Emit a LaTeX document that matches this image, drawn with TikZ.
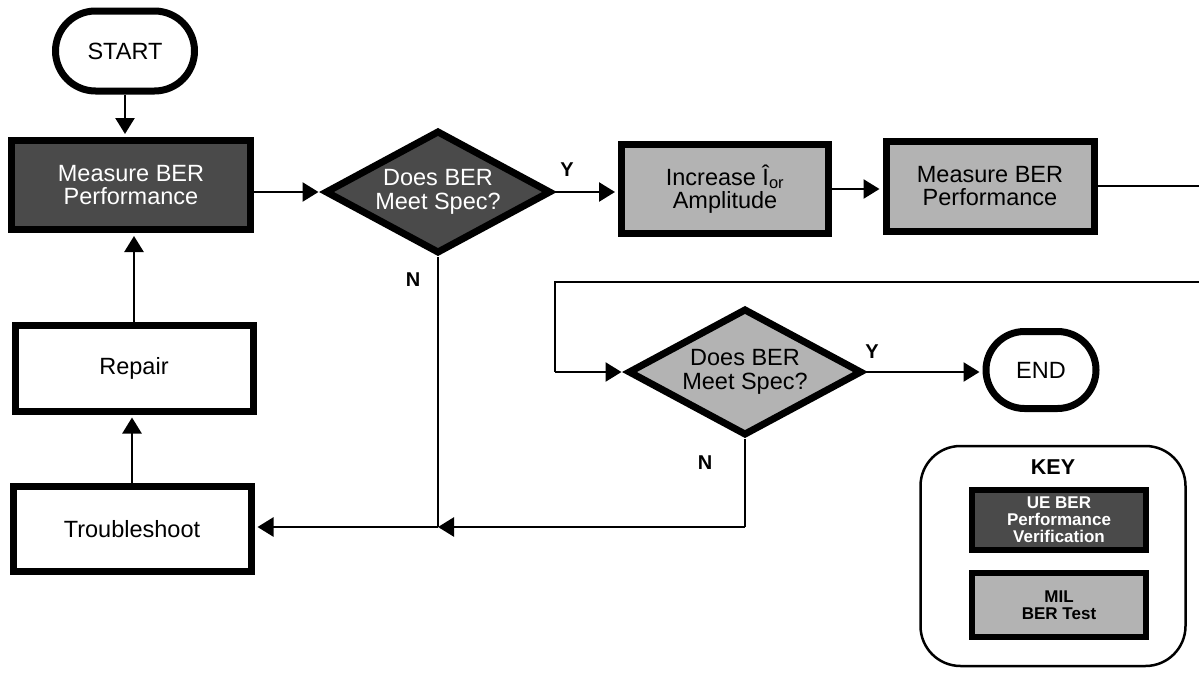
\documentclass[tikz,border=0pt]{standalone}
\usepackage{fontspec}
\setmainfont{Liberation Sans}
\usetikzlibrary{shapes.geometric,shapes.misc,arrows.meta}
\definecolor{darkfill}{HTML}{4A4A4A}
\definecolor{lightfill}{HTML}{B3B3B3}
\begin{document}
\begin{tikzpicture}[x=1pt,y=-1pt,
  base/.style={line width=7pt,draw=black,align=center,inner sep=0pt,
    font=\fontsize{23.5}{23.5}\selectfont},
  darkbox/.style={base,rectangle,fill=darkfill,text=white},
  graybox/.style={base,rectangle,fill=lightfill},
  whitebox/.style={base,rectangle,fill=white},
  terminal/.style={base,rounded rectangle,fill=white},
  darkdec/.style={base,diamond,fill=darkfill},
  graydec/.style={base,diamond,fill=lightfill},
  dectext/.style={align=center,inner sep=0pt,font=\fontsize{23.5}{23.5}\selectfont},
  conn/.style={line width=2.5pt,-{Triangle[length=16pt,width=19pt]},shorten >=3pt},
  plain/.style={line width=2.5pt},
  yn/.style={font=\fontsize{20}{22}\selectfont\bfseries},
  keytxt/.style={line width=6pt,draw=black,align=center,inner sep=0pt,
    font=\fontsize{17}{17}\selectfont\bfseries,minimum width=174pt,minimum height=60pt}
]
\useasboundingbox (0,0) rectangle (1199,672);

\node[terminal,minimum width=139pt,minimum height=80pt] (start) at (125,51) {START};
\node[darkbox,minimum width=239pt,minimum height=89pt] (m1) at (131,185) {Measure BER\\Performance};
\node[darkdec,minimum width=226pt,minimum height=123pt] (d1) at (438,192) {};
\node[dectext,text=white] (d1t) at (d1.center) {Does BER\\Meet Spec?};
\node[graybox,minimum width=207pt,minimum height=89pt] (inc) at (725,189) {Increase \^{I}\textsubscript{or}\\Amplitude};
\node[graybox,minimum width=208pt,minimum height=90pt] (m2) at (990,186) {Measure BER\\Performance};
\node[whitebox,minimum width=238pt,minimum height=86pt] (rep) at (134,368) {Repair};
\node[whitebox,minimum width=238pt,minimum height=85pt] (tr) at (132,529) {Troubleshoot};
\node[graydec,minimum width=234pt,minimum height=127pt] (d2) at (745,372) {};
\node[dectext] (d2t) at (d2.center) {Does BER\\Meet Spec?};
\node[terminal,minimum width=110pt,minimum height=77pt] (end) at (1041,370) {END};

\node[yn] (y1) at (567,170) {Y};
\node[yn] (n1) at (413,280) {N};
\node[yn] (y2) at (872,352) {Y};
\node[yn] (n2) at (705,463) {N};

\coordinate (r1) at (1199,186);
\coordinate (r2) at (1199,282);
\coordinate (c1) at (555,282);
\coordinate (c2) at (555,372);
\coordinate (j) at (438,527);
\coordinate (b2) at (745,527);

\draw[conn] (start) -- (start.south |- m1.north);
\draw[conn] (d1.west -| m1.east) -- (d1.west);
\draw[conn] (d1.east) -- (d1.east -| inc.west);
\draw[conn] (inc.east) -- (inc.east -| m2.west);
\draw[plain] (m2.east) -- (r1);
\draw[plain] (r2) -- (c1) -- (c2);
\draw[conn] (c2) -- (d2.west);
\draw[conn] (d2.east) -- (d2.east -| end.west);
\draw[plain] (d1.south) -- (j);
\draw[plain] (d2.south) -- (b2);
\draw[conn,shorten >=0pt] (b2) -- (j);
\draw[conn] (j) -- (j -| tr.east);
\draw[conn] (tr.north) -- (tr.north |- rep.south);
\draw[conn] (rep.north) -- (rep.north |- m1.south);

% key
\node[draw=black,line width=2.5pt,rounded corners=40pt,minimum width=265pt,minimum height=220pt] (keybox) at (1053,556) {};
\node[font=\fontsize{21.5}{22}\selectfont\bfseries] (keyt) at (1053,467) {KEY};
\node[keytxt,fill=darkfill,text=white] (k1) at (1059,520) {UE BER\\Performance\\Verification};
\node[keytxt,fill=lightfill,minimum height=64pt] (k2) at (1059,605) {MIL\\BER Test};
\end{tikzpicture}
\end{document}
